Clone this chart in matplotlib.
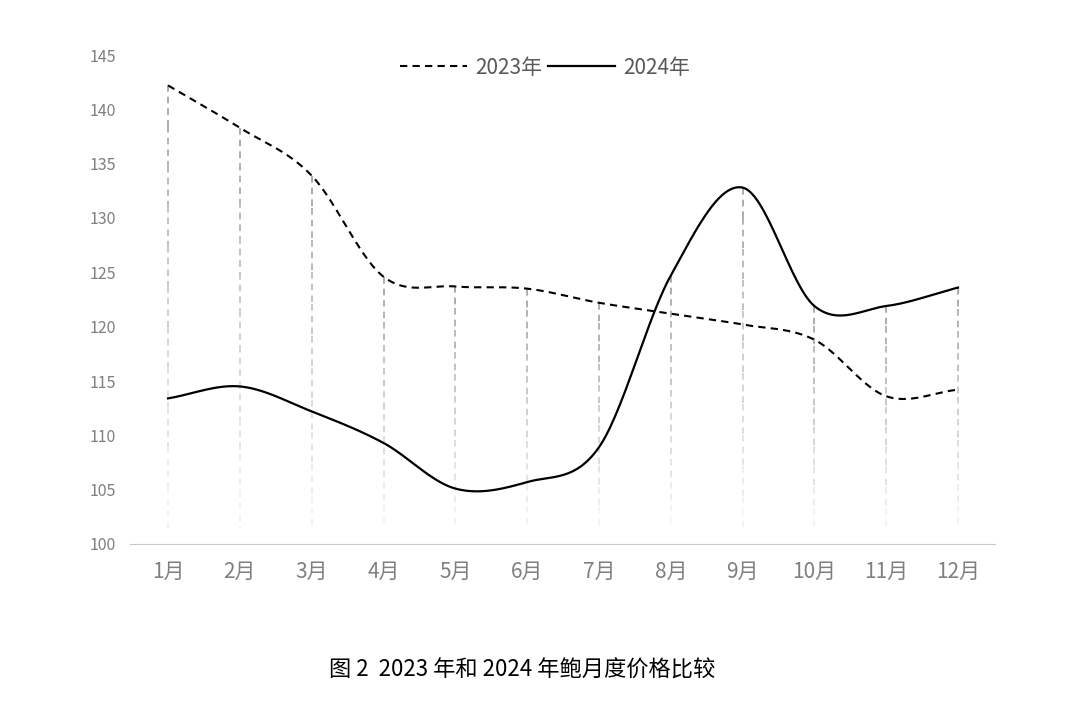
import numpy as np
import matplotlib
matplotlib.use("Agg")
import matplotlib.pyplot as plt

plt.rcParams['font.family'] = ['Noto Sans CJK SC', 'DejaVu Sans']

months = ["1月", "2月", "3月", "4月", "5月", "6月", "7月", "8月", "9月", "10月", "11月", "12月"]
price_2023 = [142.2, 138.3, 133.9, 124.6, 123.7, 123.5, 122.2, 121.2, 120.2, 118.8, 113.6, 114.2]
price_2024 = [113.4, 114.5, 112.2, 109.3, 105.1, 105.7, 108.9, 124.7, 132.8, 121.9, 121.9, 123.6]


def smooth(y, n=30):
    """Catmull-Rom spline through the points (like Excel's smoothed line)."""
    y = np.asarray(y, float)
    p = np.concatenate([[2 * y[0] - y[1]], y, [2 * y[-1] - y[-2]]])
    xs, ys = [], []
    for i in range(len(y) - 1):
        t = np.linspace(0, 1, n, endpoint=False)
        p0, p1, p2, p3 = p[i], p[i + 1], p[i + 2], p[i + 3]
        seg = 0.5 * ((2 * p1) + (-p0 + p2) * t + (2 * p0 - 5 * p1 + 4 * p2 - p3) * t ** 2
                     + (-p0 + 3 * p1 - 3 * p2 + p3) * t ** 3)
        xs.append(i + t)
        ys.append(seg)
    xs.append([len(y) - 1])
    ys.append([y[-1]])
    return np.concatenate(xs), np.concatenate(ys)


fig = plt.figure(figsize=(10.77, 7.06), dpi=100)
ax = fig.add_axes([130 / 1077, 1 - 544 / 706, 865 / 1077, 489 / 706])

x = np.arange(len(months))
# fading dashed drop lines
for i in x:
    top = max(price_2023[i], price_2024[i])
    levels = np.linspace(top, 101.5, 12)
    for k in range(len(levels) - 1):
        ax.plot([i, i], [levels[k], levels[k + 1]], color="#999999", lw=1.2,
                ls=(0, (4, 3)), alpha=0.9 * (1 - k / 11) + 0.05, zorder=1)

sx, sy = smooth(price_2023)
ax.plot(sx, sy, color="black", lw=1.5, ls=(0, (3.5, 2.5)), label="2023年", zorder=3)
sx, sy = smooth(price_2024)
ax.plot(sx, sy, color="black", lw=1.6, label="2024年", zorder=3)

ax.set_xlim(-0.53, 11.515)
ax.set_ylim(100, 145)
ax.set_yticks(range(100, 146, 5))
ax.set_xticks(x)
ax.set_xticklabels(months, fontsize=15, color="#7f7f7f")
ax.tick_params(axis="y", labelsize=11.5, colors="#7f7f7f", length=0, pad=10)
ax.tick_params(axis="x", length=0, pad=12)
for s in ["left", "right", "top"]:
    ax.spines[s].set_visible(False)
ax.spines["bottom"].set_color("#c8c8c8")

leg = ax.legend(loc="upper center", bbox_to_anchor=(0.48, 1.035), ncol=2, frameon=False,
                fontsize=15, handlelength=3.2, columnspacing=0.3, handletextpad=0.4)
for t in leg.get_texts():
    t.set_color("#595959")

fig.text(522 / 1077, 1 - 670 / 706, "图 2  2023 年和 2024 年鲍月度价格比较", ha="center", va="center",
         fontsize=16, color="black", fontweight="medium")

fig.savefig("out.png", dpi=100)
